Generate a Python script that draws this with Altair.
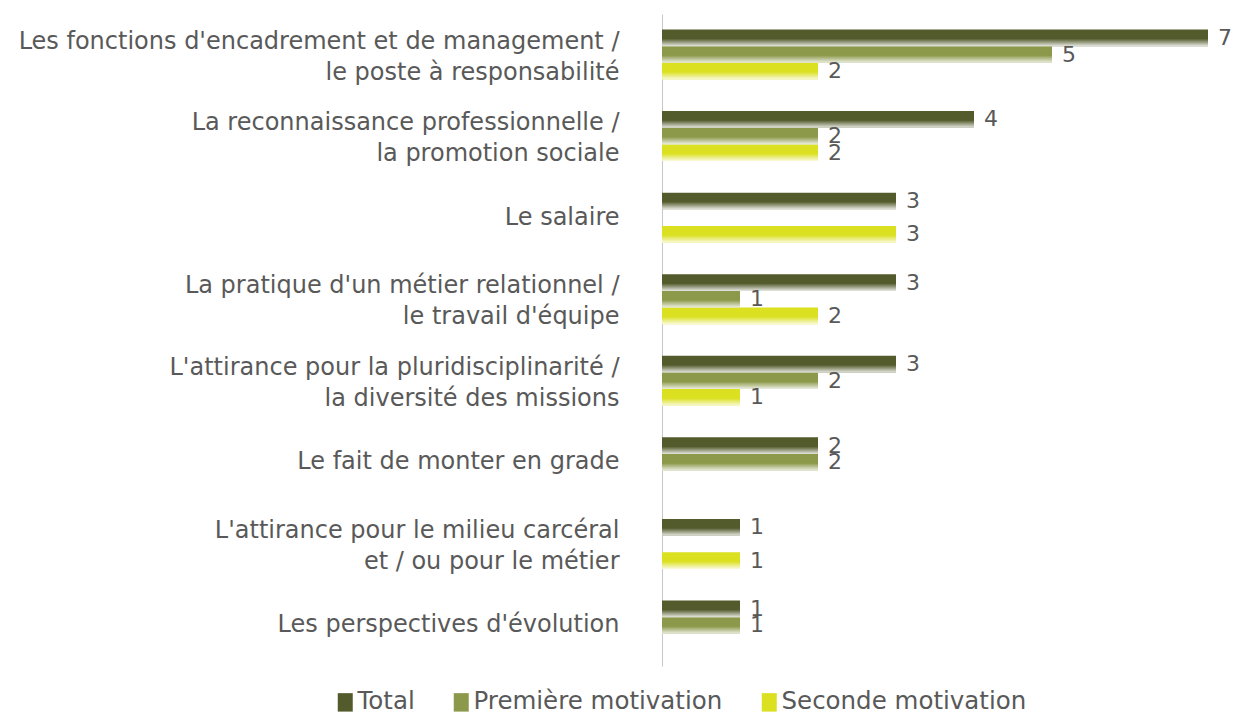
import altair as alt
import pandas as pd

categories = [
    "Les fonctions d'encadrement et de management /\nle poste à responsabilité",
    "La reconnaissance professionnelle /\nla promotion sociale",
    "Le salaire",
    "La pratique d'un métier relationnel /\nle travail d'équipe",
    "L'attirance pour la pluridisciplinarité /\nla diversité des missions",
    "Le fait de monter en grade",
    "L'attirance pour le milieu carcéral\net / ou pour le métier",
    "Les perspectives d'évolution",
]
series = ["Total", "Première motivation", "Seconde motivation"]
total = [7, 4, 3, 3, 3, 2, 1, 1]
premiere = [5, 2, None, 1, 2, 2, None, 1]
seconde = [2, 2, 3, 2, 1, None, 1, None]
colors = ["#535b2c", "#8c994b", "#dbe021"]

rows = []
for s, vals in zip(series, [total, premiere, seconde]):
    for c, v in zip(categories, vals):
        if v is not None:
            rows.append({"cat": c, "serie": s, "val": v})
df = pd.DataFrame(rows)

FONT = "DejaVu Sans"
TXT = "#595959"

y = alt.Y("cat:N", sort=categories, title=None,
          scale=alt.Scale(paddingInner=0.387, paddingOuter=0.19),
          axis=alt.Axis(labelExpr="split(datum.value, '\\n')", labelFontSize=24,
                        labelLineHeight=31, labelColor=TXT, labelFont=FONT,
                        labelPadding=43, ticks=False, domainColor="#c8c8c8",
                        labelOffset={"expr": "indexof(datum.value, '\\n') >= 0 ? -13 : 0"},
                        labelLimit=700, grid=False))
yoff = alt.YOffset("serie:N", sort=series,
                   scale=alt.Scale(domain=series, paddingInner=0, paddingOuter=0))
x = alt.X("val:Q", scale=alt.Scale(domain=[0, 7], nice=False), axis=None)

base = alt.Chart(df)

bars = base.mark_bar(cornerRadius=0).encode(
    x=x, y=y, yOffset=yoff,
    color=alt.Color("serie:N", sort=series,
                    scale=alt.Scale(domain=series, range=colors),
                    legend=alt.Legend(title=None, orient="none", direction="horizontal",
                                      legendX=-329, legendY=676,
                                      labelFontSize=24.5, labelColor=TXT, labelFont=FONT,
                                      symbolType="M-1,-1.23H1V1.23H-1Z", symbolSize=225,
                                      symbolStrokeWidth=0, labelOffset=0,
                                      columnPadding=34, labelLimit=400)),
)

shade = base.mark_bar(color=alt.Gradient(
    gradient="linear", x1=0, y1=0, x2=0, y2=1,
    stops=[alt.GradientStop(color="rgba(255,255,255,0)", offset=0),
           alt.GradientStop(color="rgba(255,255,255,0)", offset=0.55),
           alt.GradientStop(color="rgba(255,255,255,0.85)", offset=1)])).encode(
    x=x, y=y, yOffset=yoff)

labels = base.mark_text(align="left", baseline="middle", dx=10, fontSize=22,
                        font=FONT, color=TXT).encode(
    x=x, y=y, yOffset=yoff, text="val:Q")

chart = alt.layer(bars, shade, labels).properties(
    width=546, height=652,
    autosize=alt.AutoSizeParams(type="none"),
    padding={"left": 654, "top": 6, "right": 23, "bottom": 48},
).configure(background="white").configure_view(stroke="transparent")

chart.save("out.html", embed_options={"renderer": "svg", "actions": False})
